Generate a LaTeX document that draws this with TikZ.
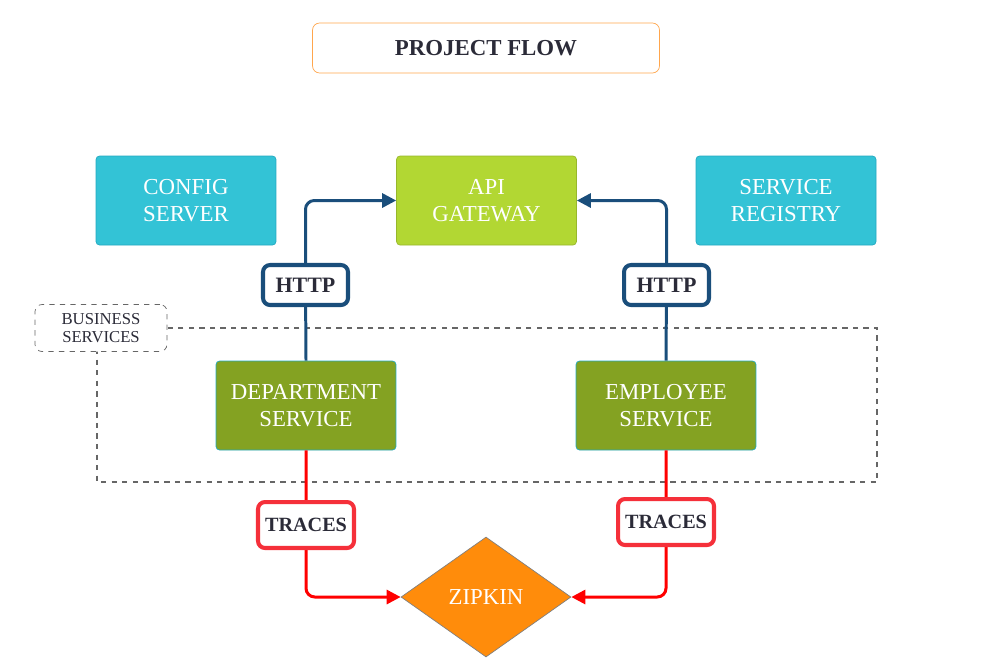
\documentclass[tikz,border=0pt]{standalone}
\usepackage{fontspec}
\setmainfont{Liberation Serif}
\usetikzlibrary{shapes.geometric,arrows.meta}
\definecolor{svccyan}{HTML}{33C3D6}
\definecolor{svcedge}{HTML}{22A9C0}
\definecolor{gwgreen}{HTML}{B2D733}
\definecolor{bizolive}{HTML}{84A222}
\definecolor{httpblue}{HTML}{1A4E7B}
\definecolor{tracered}{HTML}{F5303A}
\definecolor{titleorange}{HTML}{FFA64D}
\definecolor{zipkinorange}{HTML}{FF8C0B}
\definecolor{labeltext}{HTML}{2B2B38}
\begin{document}
\begin{tikzpicture}[x=0.02cm,y=-0.02cm,
    svcbox/.style={draw=svcedge,fill=svccyan,rounded corners=2pt,minimum width=3.6cm,minimum height=1.78cm,
      text=white,align=center,font=\fontsize{13}{15}\selectfont},
    tagbox/.style={draw,line width=2.3pt,fill=white,rounded corners=4pt,text=labeltext,
      font=\bfseries\fontsize{12.5}{14}\selectfont},
    bluearrow/.style={httpblue,line width=1.7pt,rounded corners=5pt,-{Triangle[length=0.28cm,width=0.28cm]}},
    redarrow/.style={red,line width=1.7pt,rounded corners=5pt,-{Triangle[length=0.28cm,width=0.28cm]}}]
  \useasboundingbox (0,0) rectangle (982,657);
  % title
  \node[draw=titleorange,rounded corners=4pt,minimum width=6.94cm,minimum height=1cm,text=labeltext,
    font=\bfseries\fontsize{13}{15}\selectfont] (title) at (486,48) {PROJECT FLOW};
  % business services group
  \draw[gray!80!black,dashed,line width=1.1pt] (97,328) rectangle (877,482);
  \node[draw=gray!80!black,dashed,fill=white,rounded corners=4pt,minimum width=2.64cm,minimum height=0.94cm,
    align=center,text=labeltext,font=\fontsize{9.5}{10.5}\selectfont,inner sep=1pt] (bizlabel) at (101,328)
    {BUSINESS\\SERVICES};
  % services
  \node[svcbox] (config) at (186,200.5) {CONFIG\\SERVER};
  \node[svcbox,fill=gwgreen,draw=gwgreen!85!black] (api) at (486.5,200.5) {API\\GATEWAY};
  \node[svcbox] (registry) at (786,200.5) {SERVICE\\REGISTRY};
  \node[svcbox,fill=bizolive,draw=svcedge] (dept) at (306,405.5) {DEPARTMENT\\SERVICE};
  \node[svcbox,fill=bizolive,draw=svcedge] (emp) at (666,405.5) {EMPLOYEE\\SERVICE};
  \node[diamond,draw=gray,fill=zipkinorange,minimum width=3.4cm,minimum height=2.4cm,inner sep=0pt,
    text=white,font=\fontsize{13}{15}\selectfont] (zipkin) at (486,597) {ZIPKIN};
  % connectors
  \draw[httpblue,line width=1.7pt] (dept.north) -- (305.5,285);
  \draw[httpblue,line width=1.7pt] (emp.north) -- (666.5,285);
  \draw[bluearrow] (305.5,285) |- (api.west);
  \draw[bluearrow] (666.5,285) |- (api.east);
  \draw[redarrow] (dept.south) |- (zipkin.west);
  \draw[redarrow] (emp.south) |- (zipkin.east);
  % tags on the lines
  \node[tagbox,draw=httpblue,minimum width=1.7cm,minimum height=0.8cm] (httpl) at (305.5,285) {HTTP};
  \node[tagbox,draw=httpblue,minimum width=1.7cm,minimum height=0.8cm] (httpr) at (666.5,285) {HTTP};
  \node[tagbox,draw=tracered,minimum width=1.92cm,minimum height=0.92cm,
    font=\bfseries\fontsize{11.5}{13}\selectfont] (tracesl) at (306,525) {TRACES};
  \node[tagbox,draw=tracered,minimum width=1.92cm,minimum height=0.92cm,
    font=\bfseries\fontsize{11.5}{13}\selectfont] (tracesr) at (666,522) {TRACES};
\end{tikzpicture}
\end{document}
